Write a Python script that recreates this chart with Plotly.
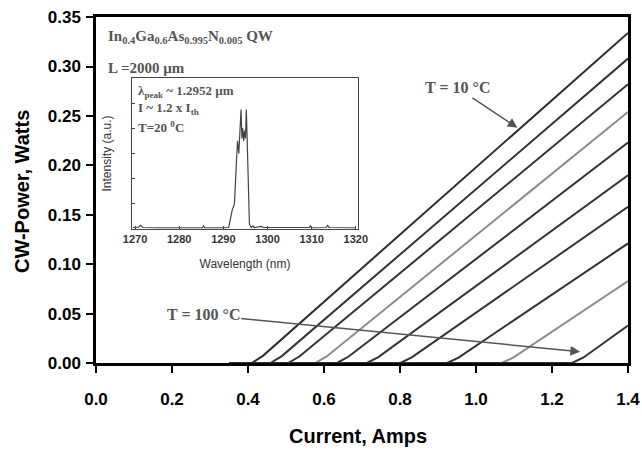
import plotly.graph_objects as go

# ---------------- data ----------------
temperatures_c = [10, 20, 30, 40, 50, 60, 70, 80, 90, 100]
start_current = [0.35, 0.35, 0.35, 0.35, 0.35, 0.35, 0.35, 0.35, 0.35, 0.35]
threshold_current = [0.410, 0.459, 0.506, 0.577, 0.634, 0.713, 0.801, 0.924, 1.068, 1.253]
knee_current = [0.440, 0.489, 0.536, 0.607, 0.664, 0.743, 0.831, 0.954, 1.098, 1.283]
knee_power = [0.0075, 0.0070, 0.0068, 0.0066, 0.0063, 0.0060, 0.0057, 0.0055, 0.0054, 0.0056]
end_current = [1.4, 1.4, 1.4, 1.4, 1.4, 1.4, 1.4, 1.4, 1.4, 1.4]
end_power = [0.334, 0.308, 0.282, 0.254, 0.223, 0.190, 0.158, 0.121, 0.083, 0.038]
line_colors = ["#2e2e2e", "#333333", "#333333", "#8c8c8c", "#333333",
               "#333333", "#333333", "#333333", "#8c8c8c", "#333333"]

# inset spectrum (T = 20 C)
wavelength_nm = [1269.5, 1270.8, 1271.2, 1271.8, 1275, 1280, 1285.2, 1285.5, 1285.8,
                 1290, 1291.2, 1291.6, 1292.0, 1292.5, 1292.8, 1293.0, 1293.2, 1293.5,
                 1293.8, 1294.0, 1294.2, 1294.4, 1294.6, 1294.8, 1295.0, 1295.2,
                 1295.4, 1295.6, 1295.9, 1296.3, 1296.7, 1297.0, 1298.6, 1299.0,
                 1305, 1309.5, 1309.7, 1310.0, 1313.3, 1313.6, 1314.0, 1320]
intensity_au = [0.012, 0.015, 0.03, 0.012, 0.010, 0.010, 0.010, 0.025, 0.010,
                0.010, 0.012, 0.08, 0.15, 0.20, 0.40, 0.62, 0.70, 0.60,
                0.80, 0.95, 0.72, 0.80, 0.70, 0.78, 0.72, 0.95,
                0.70, 0.30, 0.04, 0.012, 0.025, 0.012, 0.020, 0.012,
                0.010, 0.012, 0.025, 0.010, 0.012, 0.028, 0.012, 0.010]

x_ticks = [0.0, 0.2, 0.4, 0.6, 0.8, 1.0, 1.2, 1.4]
y_ticks = [0.00, 0.05, 0.10, 0.15, 0.20, 0.25, 0.30, 0.35]
inset_ticks = [1270, 1280, 1290, 1300, 1310, 1320]

# ---------------- figure ----------------
fig = go.Figure()

for k, t in enumerate(temperatures_c):
    fig.add_trace(go.Scatter(
        x=[start_current[k], threshold_current[k], knee_current[k], end_current[k]],
        y=[0.0, 0.0, knee_power[k], end_power[k]],
        mode="lines", line=dict(color=line_colors[k], width=2),
        name=f"T = {t} °C", showlegend=False, hoverinfo="skip"))

fig.add_trace(go.Scatter(
    x=wavelength_nm, y=intensity_au, xaxis="x2", yaxis="y2",
    mode="lines", line=dict(color="#444444", width=1.2), showlegend=False))

W, H = 642, 458
PL, PR, PT, PB = 96, 628, 17, 363
pw, ph = PR - PL, PB - PT

def px(x):
    return (x - PL) / pw

def py(y):
    return (PB - y) / ph

sans = "Liberation Sans, Arial"
fig.update_layout(
    width=W, height=H,
    margin=dict(l=PL, r=W - PR, t=PT, b=H - PB, autoexpand=False),
    paper_bgcolor="white", plot_bgcolor="white",
    xaxis=dict(range=[0, 1.4], tickvals=x_ticks, ticktext=[f"{v:.1f}" for v in x_ticks],
               ticks="outside", ticklen=7, tickwidth=2, tickcolor="black",
               showline=True, linewidth=2.5, linecolor="black", mirror=True,
               showgrid=False, zeroline=False, ticklabelstandoff=12, automargin=False,
               tickfont=dict(family=sans, size=17, color="black", weight="bold")),
    yaxis=dict(range=[0, 0.3501], tickvals=y_ticks, ticktext=[f"{v:.2f}" for v in y_ticks],
               ticks="outside", ticklen=7, tickwidth=2, tickcolor="black",
               showline=True, linewidth=2.5, linecolor="black", mirror=True,
               showgrid=False, zeroline=False, automargin=False, ticklabelstandoff=2,
               tickfont=dict(family=sans, size=17, color="black", weight="bold")),
    xaxis2=dict(domain=[px(132), px(358)], anchor="y2", range=[1269.3, 1320.5],
                tickvals=inset_ticks, ticks="inside", ticklen=3, tickcolor="#444",
                showline=True, linewidth=1.2, linecolor="#444", mirror=True,
                showgrid=False, zeroline=False, automargin=False,
                tickfont=dict(family=sans, size=11, color="#333", weight="bold"),
                title=dict(text="Wavelength (nm)", standoff=15,
                           font=dict(family=sans, size=12, color="#333"))),
    yaxis2=dict(domain=[py(229), py(78)], anchor="x2", range=[0, 1.2], dtick=0.2,
                ticks="inside", ticklen=3, tickcolor="#444", showticklabels=False,
                showline=True, linewidth=1.2, linecolor="#444", mirror=True,
                showgrid=False, zeroline=False, automargin=False,
                title=dict(text="Intensity (a.u.)", standoff=16,
                           font=dict(family=sans, size=12, color="#333"))),
)

# main axis titles
fig.add_annotation(xref="paper", yref="paper", x=px(358), y=py(436), text="<b>Current, Amps</b>",
                   showarrow=False, xanchor="center", yanchor="middle",
                   font=dict(family=sans, size=20, color="black"))
fig.add_annotation(xref="paper", yref="paper", x=px(22), y=py(192), text="<b>CW-Power, Watts</b>",
                   showarrow=False, xanchor="center", yanchor="middle", textangle=-90,
                   font=dict(family=sans, size=20, color="black"))

serif = "Liberation Serif, Times New Roman"
gray = "#555555"

def label(text, x, y, size=15):
    fig.add_annotation(xref="paper", yref="paper", x=px(x), y=py(y), text=text,
                       showarrow=False, xanchor="left", yanchor="middle",
                       font=dict(family=serif, size=size, color=gray, weight="bold"))

label("In<sub>0.4</sub>Ga<sub>0.6</sub>As<sub>0.995</sub>N<sub>0.005</sub> QW", 106, 37, 15)
label("L =2000 µm", 106, 68, 15)
label("λ<sub>peak</sub> ~ 1.2952 µm", 136, 92, 13)
label("I ~ 1.2 x I<sub>th</sub>", 136, 109, 13)
label("T=20 <sup>0</sup>C", 136, 127, 13)

fig.add_annotation(x=1.109, y=0.238, xref="x", yref="y", ax=-60, ay=-40,
                   axref="pixel", ayref="pixel", text="T = 10 °C", showarrow=True,
                   arrowhead=2, arrowsize=1.3, arrowwidth=1.5, arrowcolor=gray,
                   font=dict(family=serif, size=16, color=gray, weight="bold"))
fig.add_annotation(x=1.274, y=0.0114, xref="x", yref="y", ax=-377, ay=-37,
                   axref="pixel", ayref="pixel", text="T = 100 °C", showarrow=True,
                   arrowhead=2, arrowsize=1.3, arrowwidth=1.5, arrowcolor=gray,
                   font=dict(family=serif, size=16, color=gray, weight="bold"))

fig.write_html("out.html", config={"displayModeBar": False},
               post_script="document.body.style.margin='0px';document.body.style.overflow='hidden';")
